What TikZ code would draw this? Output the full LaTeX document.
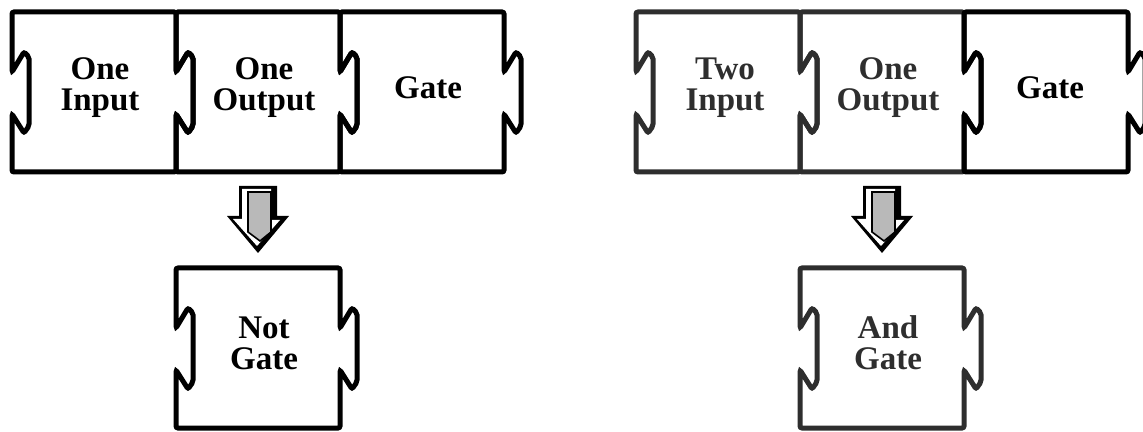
\documentclass[tikz,border=0pt]{standalone}
\usepackage{fontspec}
\setmainfont{Liberation Serif}
\tikzstyle{piece} = [line width=2.5pt, rounded corners=1pt, line join=miter]
\tikzstyle{piecetext} = [font=\bfseries\fontsize{16.5}{15.5}\selectfont, align=center]
\definecolor{halftone}{gray}{0.18}

% puzzle piece: #1 colour, #2 #3 top left corner
\newcommand{\puzzle}[3][black]{%
  \draw[piece,#1] (#2,#3) -- ++(164,0) -- ++(0,60) -- ++(12,-20) -- ++(5,5)
    -- ++(0,69) -- ++(-5,7) -- ++(-12,-19) -- ++(0,58) -- ++(-164,0)
    -- ++(0,-58) -- ++(12,19) -- ++(5,-7) -- ++(0,-69) -- ++(-5,-5)
    -- ++(-12,20) -- cycle;}

% hollow block arrow pointing down, #1 centre
\newcommand{\blockarrow}[1]{%
  \fill[black] (#1-19,186) -- (#1+19,186) -- (#1+19,216) -- (#1+31,216)
    -- (#1,253) -- (#1-31,216) -- (#1-19,216) -- cycle;
  \fill[white] (#1-16,189) -- (#1+13,189) -- (#1+13,220) -- (#1+22,220)
    -- (#1-1,246) -- (#1-25,219) -- (#1-16,219) -- cycle;
  \filldraw[fill=gray!55, draw=black, line width=0.8pt] (#1-10,192) -- (#1+13,192)
    -- (#1+13,232) -- (#1+2,241) -- (#1-10,232) -- cycle;}

\begin{document}
\begin{tikzpicture}[x=0.5pt,y=-0.5pt]
  \useasboundingbox (0,0) rectangle (1143,432);

  \puzzle{12}{12}
  \puzzle{176}{12}
  \puzzle{340}{12}
  \puzzle{176}{268}

  \node[piecetext] (oneinput)  at (100,88)  {One\\Input};
  \node[piecetext] (oneoutput) at (264,88)  {One\\Output};
  \node[piecetext] (gate)      at (428,88)  {Gate};
  \node[piecetext] (notgate)   at (264,343) {Not\\Gate};
  \blockarrow{258}

  \puzzle[halftone]{636}{12}
  \puzzle[halftone]{800}{12}
  \puzzle{964}{12}
  \puzzle[halftone]{800}{268}

  \node[piecetext,halftone] (twoinput)   at (725,88)  {Two\\Input};
  \node[piecetext,halftone] (oneoutputb) at (888,88)  {One\\Output};
  \node[piecetext]          (gateb)      at (1050,88) {Gate};
  \node[piecetext,halftone] (andgate)    at (888,343) {And\\Gate};
  \blockarrow{882}
\end{tikzpicture}
\end{document}
